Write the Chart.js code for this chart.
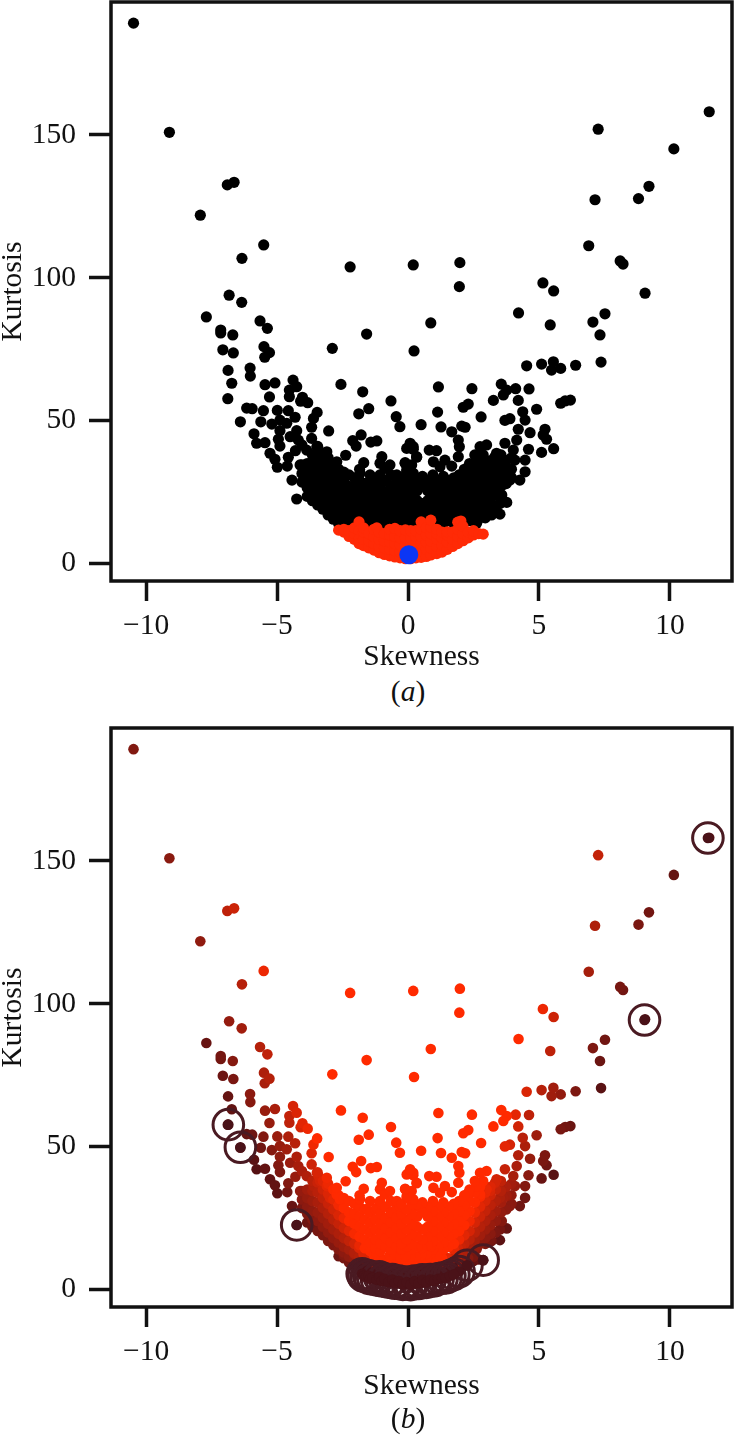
<!DOCTYPE html>
<html>
<head>
<meta charset="utf-8">
<title>Skewness / Kurtosis</title>
<script src="https://cdn.jsdelivr.net/npm/chart.js@4"></script>
<style>
  html, body { margin: 0; padding: 0; background: #fff; }
  body { position: relative; width: 734px; height: 1437px; overflow: hidden; }
  canvas { position: absolute; left: 0; }
  #chartA { top: 0; }
  #chartB { top: 726px; }
  .caption { position: absolute; width: 100px; text-align: center; left: 358px; font: 29.5px "Liberation Serif", serif; color: #111; }
</style>
</head>
<body>
<canvas id="chartA" width="734" height="675"></canvas>
<canvas id="chartB" width="734" height="678"></canvas>
<div class="caption" style="top:675px">(<i>a</i>)</div>
<div class="caption" style="top:1402px">(<i>b</i>)</div>
<script>
"use strict"

const xTicks = [-10, -5, 0, 5, 10];
const yTicks = [0, 50, 100, 150];
const xTitle = "Skewness";
const yTitle = "Kurtosis";

// spridda punkter, [skewness, kurtosis]
const scatterPoints = [
  [-10.48,189.1],[-9.11,150.9],[-6.9,132.5],[-6.64,133.4],[-7.93,121.9],[-5.51,111.5],[-6.34,106.8],[-2.21,103.8],[0.2,104.5],
  [-6.83,93.9],[-6.35,91.4],[-7.7,86.3],[-7.15,81.7],[-7.15,80.7],[-6.69,80],[-5.65,84.9],[-5.37,82.3],[-1.58,80.3],
  [11.5,158.1],[7.26,152],[10.15,145.1],[9.2,132],[8.8,127.7],[7.14,127.3],[6.9,111.2],[8.1,105.9],[8.21,104.8],[9.05,94.6],
  [5.15,98.2],[5.56,95.4],[1.98,105.3],[1.96,96.9],[0.87,84.2],[4.22,87.7],[5.43,83.5],[7.06,84.5],[7.52,87.4],[7.33,80],
  [-7.07,74.8],[-6.67,73.7],[-5.5,75.9],[-5.29,73.8],[-5.47,72.2],[-2.89,75.3],[0.23,74.4],[-6.87,67.6],[-6.03,68.4],[-6.02,65.6],
  [-6.73,63.1],[-5.46,62.6],[-5.08,63.2],[-4.39,64.2],[-4.25,61.9],[-4.53,60.7],[-4.53,58.4],[-2.56,62.7],[-1.73,60.1],[-6.88,57.7],
  [-5.29,58.3],[-4.03,58.2],[-3.83,56.3],[-4.1,56.8],[-0.65,56.9],[-6.16,54.4],[-5.95,54.2],[-5.52,53.5],[-4.99,53.6],[-4.57,53.5],
  [-3.47,52.9],[-1.5,54.2],[-1.88,52.4],[-0.45,51.4],[-0.31,47.9],[-6.4,49.6],[-5.62,49.6],[-4.31,51.2],[-3.61,50.8],[-5.2,48.8],
  [-4.89,50.2],[-4.63,49.1],[-5.88,45.4],[-3.03,46.4],[-4.89,46.5],[-4.25,46.5],[-3.68,47.7],[-1.79,45],[-2.11,43],[-1.98,41.1],
  [-1.42,42.5],[-1.19,42.9],[-5.78,42.1],[-5.46,42.3],[-4.95,43.5],[-4.89,41.1],[-4.5,44.4],[-4.19,43.2],[-3.68,43.8],[-5.27,38.6],
  [-5.08,36.5],[-4.99,33.7],[-4.61,34.1],[-4.57,37.2],[-3.87,39.7],[-3.42,39.7],[-2.38,37.9],[0.08,42.1],[-0.05,40.3],[0.2,40.9],
  [-1,37.4],[-1.69,35.3],[-1.07,35.1],[-0.69,34.5],[-0.88,33.3],[-0.11,35.3],[0.33,37.4],[-4.12,34.5],[-3.61,36.2],[-3.1,36.2],
  [-2.72,33.3],[-4.43,29.2],[-4.25,22.6],[-3.48,40.9],[-4.3,39.5],[-4.05,41.5],
  [4.53,69.2],[5.1,69.8],[5.55,70.6],[5.48,67.7],[5.83,68.3],[6.4,69.4],[7.37,70.5],[1.16,61.8],[2.44,61.2],[3.56,62.8],[3.77,60.7],
  [3.64,59],[4.11,61.2],[4.62,61.1],[3.26,57.1],[4.21,57.1],[2.3,55.8],[2.11,54.7],[6.2,57.2],[6,56.9],[5.83,56.1],[1.13,53],[4.91,54],
  [4.38,53.1],[2.79,51.3],[3.89,50.7],[3.7,50.1],[4.47,50.2],[0.5,48.6],[1.26,47.8],[2.18,47.7],[2.05,48.1],[1.67,46.1],[4.21,47],
  [4.66,45.8],[5.23,47],[5.29,43.5],[5.16,45],[1.92,43.2],[1.96,40.9],[0.2,40],[5.56,40.2],[5.1,38.9],[0.81,39.7],[1.09,39.5],[1.92,37.4],
  [0.33,37.2],[3,41.5],[2.75,40.9],[3.7,42.1],[4.15,43.2],[4.6,40],[3.38,38.6],[4.02,39.7],[4.08,36.2],[4.47,36.2],[4.47,32.1],
  [2.62,36.2],[2.87,38],[2.3,33.9],[0.97,35.6],[1.22,33.9],[1.41,36.2],[1.67,34.1],[-0.11,35.1],[0.14,34.5],[3.51,32.1],[3.77,32.7],
  [4.27,29.2],[3.89,29.2],[2.75,33.3],[3.13,34.5],[3.58,24],[3.77,21.4],[3.51,21],[3.51,17.3],[3.19,17],[2.62,14.1],
  [-1.83,31.6],[-1.58,28.2],[-1.07,31],[-1.19,28.6],[-0.43,31],[-0.05,32.7],[-0.31,29.2],[0.33,29.8],[0.2,31.6],[-2.6,31.6],
  [-3.1,39.1],[-2.72,35.6],[-3.36,38],[-2.98,32.1],[2.24,26.9],[3,35.1],[3.32,37.4],[3.64,32.1]
];

// täta delen av molnet, skrivs kolumnvis: skewness följt av kurtosis-värdena
const denseColumns = [
  [-4.05, 34.5, 31.5, 28.5],
  [-3.85, 35, 32, 29, 26.5, 23.5],
  [-3.65, 38, 34.5, 31, 27.5, 24.5, 22],
  [-3.45, 41, 37.5, 34, 30.5, 27, 24, 20.5],
  [-3.25, 38, 35, 32, 28.5, 25, 22, 19],
  [-3.05, 37, 33.5, 30, 26.5, 23, 20, 17],
  [-2.85, 35, 31.5, 28, 24.5, 21, 18, 15.5],
  [-2.65, 33, 29.5, 26, 23, 19.5, 16.5, 14],
  [-2.45, 32, 28.5, 25, 21.5, 18, 15, 13],
  [-2.25, 31, 27, 24, 20.5, 17, 14],
  [-2.05, 30, 26.5, 23, 19.5, 16, 13],
  [-1.85, 33, 29, 25.5, 22, 18.5, 15.5],
  [-1.65, 28, 24.5, 21, 17.5, 14.5],
  [-1.45, 31, 27, 23.5, 20, 16.5, 13.5],
  [-1.25, 28, 24.5, 21, 17.5, 14.5],
  [-1.05, 30, 26.5, 23, 19.5, 16, 13.5],
  [-0.85, 29, 25, 21.5, 18, 15],
  [-0.65, 31, 27, 23.5, 20, 16.5, 14],
  [-0.45, 28.5, 25, 21.5, 18, 15],
  [-0.25, 30, 26.5, 23, 19.5, 16, 14],
  [-0.05, 32, 28, 24.5, 21, 17.5, 15],
  [0.15, 30, 26.5, 23, 19.5, 16, 14],
  [0.35, 29, 25.5, 22, 18.5, 15],
  [0.55, 30.5, 27, 21, 17.5, 14.5],
  [0.75, 29, 25.5, 22, 18.5, 15.5],
  [0.95, 31, 27.5, 24, 20.5, 17, 14],
  [1.15, 29, 25.5, 22, 18.5, 15],
  [1.35, 30.5, 27, 23.5, 20, 16.5, 14],
  [1.55, 29, 25.5, 22, 18.5, 15],
  [1.75, 30, 26.5, 23, 19.5, 16, 14],
  [1.95, 31, 27.5, 24, 20.5, 17.5],
  [2.15, 33, 29.5, 26, 22.5, 19, 16],
  [2.35, 35, 31, 27.5, 24, 20.5, 17.5, 15],
  [2.55, 38, 34, 30.5, 27, 23.5, 20, 17, 14.5],
  [2.75, 36, 32.5, 29, 25.5, 22, 19, 16],
  [2.95, 34, 31, 27.5, 24, 21, 18, 16],
  [3.15, 36, 33, 29.5, 26, 22.5, 19.5, 17.5],
  [3.35, 35, 31, 27.5, 24, 20],
  [3.55, 38, 34.5, 30.5, 27],
  [3.75, 36, 33, 28],
  [3.95, 37, 33, 30]
];

// röda klustret i (a)
const lowColumns = [
  [-2.65, 11.7],
  [-2.45, 11, 12],
  [-2.25, 9.5, 11.5],
  [-2.05, 8.5, 10.5, 12.5],
  [-1.87, 14.6, 11.5, 8.5, 7],
  [-1.7, 6.3, 8.5, 11, 12.5],
  [-1.5, 5.5, 8, 10.5],
  [-1.3, 4.7, 7, 9.5, 12],
  [-1.19, 12.5],
  [-1.1, 3.8, 6, 8.5, 11],
  [-0.9, 3.2, 5.5, 8, 10.5],
  [-0.7, 2.7, 5, 7.5, 10, 12],
  [-0.5, 2.3, 4.5, 7, 9.5, 12.3],
  [-0.3, 2, 4, 6.5, 9, 11.5],
  [-0.1, 1.7, 4, 6.5, 9, 11.8],
  [0.1, 1.7, 4, 6.5, 9, 11.5],
  [0.3, 2, 4.3, 7, 9.5, 11.5],
  [0.5, 2.2, 4.5, 7, 9.5, 12, 14.6],
  [0.7, 2.5, 5, 7.5, 10, 12.5],
  [0.87, 3, 5.5, 8, 10.5, 12.8, 15.2],
  [1.1, 3.5, 6, 8.5, 10.5, 12],
  [1.3, 4, 6.5, 9, 11],
  [1.5, 5, 7.5, 10, 11.1],
  [1.7, 6, 8.5, 11],
  [1.9, 7, 9.5, 12, 14.5],
  [2.02, 14.9],
  [2.1, 8, 10.5, 13],
  [2.3, 9, 11],
  [2.5, 10, 11.5],
  [2.7, 10.5],
  [2.87, 10.3]
];

const bluePoint = [[0.03, 3.1]];

// punkterna med ring runt i (b)
const ringedPoints = [
  [11.45,158],[9.03,94.3],[-6.86,57.7],[-6.4,49.8],[-4.25,22.6],[2.87,10.3],[2.25,8.5],[1.95,6.3],
  [-1.75,5.5],[-1.7,4.7],[-1.6,4.5],[-1.5,4.8],[-1.45,3.8],[-1.35,4.2],[-1.2,3.4],[-1.1,4.5],[-1,3],[-0.9,3.8],
  [-0.75,2.6],[-0.6,3.5],[-0.5,2.2],[-0.35,3],[-0.2,1.8],[-0.05,2.6],[0.1,1.7],[0.25,3],[0.4,2.1],[0.55,3.4],
  [0.7,2.5],[0.85,3.5],[1,3],[1.15,3.8],[1.3,4],[1.45,4.1],[1.6,4.8],[1.75,5.3]
];

const toXY = p => ({ x: p[0], y: p[1] });
const fromColumns = cols => cols.flatMap(c => c.slice(1).map(k => ({ x: c[0], y: k })));

const blackData = scatterPoints.map(toXY).concat(fromColumns(denseColumns));
const redData = fromColumns(lowColumns);

// ram runt hela ritytan
const framePlugin = {
  id: "frame",
  afterDraw(chart) {
    const a = chart.chartArea;
    const c = chart.ctx;
    c.save();
    c.strokeStyle = "#111";
    c.lineWidth = 3.5;
    c.strokeRect(a.left, a.top, a.right - a.left, a.bottom - a.top);
    c.restore();
  }
};

function noPadding(axis) {
  axis.paddingLeft = 0;
  axis.paddingRight = 0;
  axis.paddingTop = 0;
  axis.paddingBottom = 0;
}

function makeOptions(axisHeight) {
  const font = { family: "'Liberation Serif', serif", size: 29.5 };
  const tickGrid = { drawOnChartArea: false, drawTicks: true, tickWidth: 3.5, tickColor: "#111" };
  return {
    responsive: false,
    animation: false,
    events: [],
    layout: { autoPadding: false, padding: { top: 2, right: 2 } },
    plugins: { legend: { display: false }, tooltip: { enabled: false } },
    scales: {
      x: {
        type: "linear",
        min: -11.34,
        max: 12.37,
        border: { display: false },
        grid: { ...tickGrid, tickLength: 20 },
        afterBuildTicks: axis => { axis.ticks = xTicks.map(v => ({ value: v })); },
        afterFit: axis => { axis.height = axisHeight; noPadding(axis); },
        ticks: {
          autoSkip: false, maxRotation: 0, padding: 8, color: "#111", font: font,
          callback: v => String(v).replace("-", "\u2212")
        },
        title: { display: true, text: xTitle, color: "#111", font: font, padding: 0 }
      },
      y: {
        type: "linear",
        min: -6.1,
        max: 196.5,
        border: { display: false },
        grid: { ...tickGrid, tickLength: 22 },
        afterBuildTicks: axis => { axis.ticks = yTicks.map(v => ({ value: v })); },
        afterFit: axis => { axis.width = 111; noPadding(axis); },
        ticks: { autoSkip: false, padding: 13, color: "#111", font: font },
        title: { display: true, text: yTitle, color: "#111", font: font, padding: { top: -4, bottom: -4 } }
      }
    }
  };
}

new Chart(document.getElementById("chartA"), {
  type: "scatter",
  data: {
    datasets: [
      { data: bluePoint.map(toXY), order: 0, pointRadius: 9.5, backgroundColor: "#0c36f4", borderWidth: 0 },
      { data: redData, order: 1, pointRadius: 5.6, backgroundColor: "#ff2a06", borderWidth: 0 },
      { data: blackData, order: 2, pointRadius: 5.6, backgroundColor: "#000", borderWidth: 0 }
    ]
  },
  options: makeOptions(94),
  plugins: [framePlugin]
});

// färg i (b): mörk nära parabeln k = s*s, ljusröd långt ifrån den
function heatRatio(p) {
  return p.y / (p.x * p.x + 1);
}

function heatColor(p) {
  if (p.y < 9 && Math.abs(p.x) < 2.3) return "#4a1218";
  const t = Math.min(1, Math.max(0, (heatRatio(p) - 1.1) / 2.8));
  const stops = t < 0.25
    ? [[74, 15, 20], [138, 26, 16], t / 0.25]
    : [[138, 26, 16], [255, 42, 0], (t - 0.25) / 0.75];
  const mix = i => Math.round(stops[0][i] + (stops[1][i] - stops[0][i]) * stops[2]);
  return "rgb(" + mix(0) + "," + mix(1) + "," + mix(2) + ")";
}

const heatData = blackData.concat(redData).sort((a, b) => heatRatio(a) - heatRatio(b));

new Chart(document.getElementById("chartB"), {
  type: "scatter",
  data: {
    datasets: [
      { data: ringedPoints.map(toXY), order: 0, pointRadius: 5.3, backgroundColor: "#4a1218", borderWidth: 0 },
      { data: ringedPoints.map(toXY), order: 1, pointRadius: 15.3, backgroundColor: "transparent", borderColor: "#4a1a22", borderWidth: 3 },
      { data: heatData, order: 2, pointRadius: 5.3, backgroundColor: ctx => heatColor(ctx.raw), borderWidth: 0 }
    ]
  },
  options: makeOptions(97),
  plugins: [framePlugin]
});
</script>
</body>
</html>
